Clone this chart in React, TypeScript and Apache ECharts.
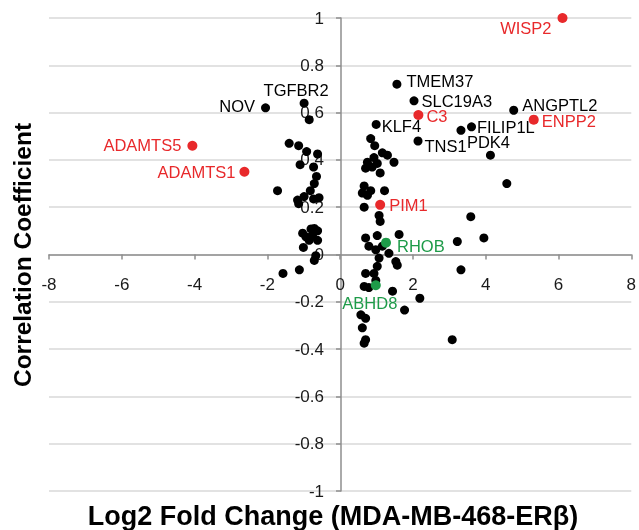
import React, { useEffect, useRef } from "react";
import * as echarts from "echarts";

// Labeled genes
const labeledNames = ["WISP2", "TMEM37", "SLC19A3", "C3", "ANGPTL2", "ENPP2", "FILIP1L", "PDK4", "TNS1", "KLF4", "PIM1", "RHOB", "ABHD8", "NOV", "TGFBR2", "ADAMTS5", "ADAMTS1"];
const labeledX = [6.11, 1.56, 2.03, 2.15, 4.77, 5.32, 3.61, 4.13, 2.14, 0.99, 1.10, 1.26, 0.98, -2.05, -0.99, -4.06, -2.63];
const labeledY = [1.0, 0.72, 0.65, 0.59, 0.61, 0.57, 0.54, 0.42, 0.48, 0.55, 0.21, 0.05, -0.13, 0.62, 0.64, 0.46, 0.35];
const labeledGroup = ["red", "black", "black", "red", "black", "red", "black", "black", "black", "black", "red", "green", "green", "black", "black", "red", "red"];

// Unlabeled genes (log2 fold change, correlation coefficient)
const otherX = [
  -0.85, -1.40, -1.14, -0.92, -0.62, -1.10, -0.73, -0.65, -0.71, -1.72, -0.82, -0.99, -1.17, -0.58, -0.73, -1.14,
  -0.71, -0.62, -0.80, -1.03, -0.94, -0.85, -0.62, -0.76, -1.01, -0.67, -0.71, -1.57, -1.12,
  0.84, 0.95, 1.16, 1.30, 1.48, 0.93, 0.75, 1.02, 0.70, 0.88, 1.10, 0.66, 0.84, 0.61, 0.75, 1.22, 0.66, 1.07, 1.10,
  0.70, 1.02, 1.62, 0.79, 0.98, 1.16, 1.34, 1.07, 1.53, 1.57, 1.02, 0.93, 0.70, 0.98, 0.66, 0.79, 1.44, 2.19, 1.77,
  0.57, 0.70, 0.61, 0.70, 0.66,
  3.32, 4.58, 3.59, 3.22, 3.95, 3.32, 3.08
];
const otherY = [
  0.57, 0.47, 0.46, 0.435, 0.425, 0.38, 0.37, 0.33, 0.30, 0.27, 0.27, 0.245, 0.23, 0.24, 0.235, 0.215,
  0.11, 0.10, 0.108, 0.09, 0.075, 0.06, 0.06, 0.08, 0.03, -0.005, -0.025, -0.08, -0.065,
  0.49, 0.46, 0.43, 0.42, 0.39, 0.41, 0.39, 0.385, 0.365, 0.37, 0.345, 0.29, 0.27, 0.26, 0.25, 0.27, 0.20, 0.165, 0.14,
  0.07, 0.08, 0.085, 0.035, 0.02, 0.035, 0.005, -0.015, -0.03, -0.045, -0.05, -0.08, -0.08, -0.11, -0.135, -0.14, -0.155, -0.185, -0.235,
  -0.255, -0.27, -0.31, -0.36, -0.375,
  0.525, 0.30, 0.16, 0.055, 0.07, -0.065, -0.36
];

const xTicks = { min: -8, max: 8, interval: 2 };
const yTicks = { min: -1, max: 1, interval: 0.2 };

const COLORS: Record<string, string> = { red: "#e8292b", green: "#1e9b49", black: "#000000" };
const FONT = "Liberation Sans";

// layout
const GRID = { left: 49, right: 6, top: 18, bottom: 39 };
const W = 639;
const H = 530;

// label placement (style only)
const labelPlacement: Record<string, { position: string; distance: number; offset: [number, number] }> = {
  WISP2: { position: "left", distance: 6, offset: [0, 10] },
  TMEM37: { position: "right", distance: 5, offset: [0, -3] },
  SLC19A3: { position: "right", distance: 3, offset: [0, 0] },
  C3: { position: "right", distance: 3, offset: [0, 1] },
  ANGPTL2: { position: "right", distance: 4, offset: [0, -5] },
  ENPP2: { position: "right", distance: 3, offset: [0, 1] },
  FILIP1L: { position: "right", distance: 1, offset: [0, 0] },
  PDK4: { position: "top", distance: 0, offset: [-2, 0] },
  TNS1: { position: "right", distance: 2, offset: [0, 5] },
  KLF4: { position: "right", distance: 1, offset: [0, 2] },
  PIM1: { position: "right", distance: 4, offset: [0, 0] },
  RHOB: { position: "right", distance: 6, offset: [0, 3] },
  ABHD8: { position: "bottom", distance: 4, offset: [-6, 0] },
  NOV: { position: "left", distance: 6, offset: [0, -2] },
  TGFBR2: { position: "top", distance: 0, offset: [-8, 0] },
  ADAMTS5: { position: "left", distance: 6, offset: [0, -1] },
  ADAMTS1: { position: "left", distance: 4, offset: [0, 0] },
};

export default function App() {
  const ref = useRef<HTMLDivElement>(null);
  useEffect(() => {
    if (!ref.current) return;
    const chart = echarts.init(ref.current, null, { renderer: "svg" });

    const otherData = otherX.map((x, i) => [x, otherY[i]]);
    const labeledData = labeledNames.map((name, i) => {
      const p = labelPlacement[name];
      const c = COLORS[labeledGroup[i]];
      return {
        name,
        value: [labeledX[i], labeledY[i]],
        symbolSize: labeledGroup[i] === "black" ? 9 : 10,
        itemStyle: { color: c },
        label: {
          show: true,
          formatter: name,
          position: p.position,
          distance: p.distance,
          offset: p.offset,
          color: c,
          fontSize: 16.5,
          fontFamily: FONT,
        },
      };
    });

    // pixel offsets that move the axes to the zero lines
    const plotW = W - GRID.left - GRID.right;
    const plotH = H - GRID.top - GRID.bottom;
    const yAxisOffset = -plotW * (0 - xTicks.min) / (xTicks.max - xTicks.min);
    const xAxisOffset = -plotH * (0 - yTicks.min) / (yTicks.max - yTicks.min);

    const axisColor = "#8e8e8e";
    chart.setOption({
      animation: false,
      grid: GRID,
      xAxis: {
        type: "value",
        position: "bottom",
        offset: xAxisOffset,
        min: xTicks.min,
        max: xTicks.max,
        interval: xTicks.interval,
        axisLine: { show: true, onZero: false, lineStyle: { color: axisColor, width: 1.5 } },
        axisTick: { show: true, length: 5, lineStyle: { color: axisColor, width: 1.5 } },
        axisLabel: { margin: 21, fontSize: 17, color: "#1a1a1a", fontFamily: FONT },
        splitLine: { show: false },
      },
      yAxis: {
        type: "value",
        position: "left",
        offset: yAxisOffset,
        min: yTicks.min,
        max: yTicks.max,
        interval: yTicks.interval,
        axisLine: { show: true, onZero: false, lineStyle: { color: axisColor, width: 1.5 } },
        axisTick: { show: true, length: 5, lineStyle: { color: axisColor, width: 1.5 } },
        axisLabel: {
          margin: 17,
          fontSize: 17,
          color: "#1a1a1a",
          fontFamily: FONT,
          formatter: (v: number) => String(Math.round(v * 10) / 10),
        },
        splitLine: { show: true, lineStyle: { color: "#d9d9d9", width: 1.5 } },
      },
      series: [
        {
          type: "scatter",
          data: otherData,
          symbolSize: 9,
          itemStyle: { color: "#000000", opacity: 1 },
          z: 2,
        },
        {
          type: "scatter",
          data: labeledData,
          itemStyle: { opacity: 1 },
          z: 3,
        },
      ],
      graphic: [
        {
          type: "text",
          x: 22,
          y: 255,
          rotation: Math.PI / 2,
          style: {
            text: "Correlation Coefficient",
            font: `bold 24.5px "${FONT}"`,
            fill: "#000",
            align: "center",
            verticalAlign: "middle",
          },
        },
        {
          type: "text",
          x: 333,
          y: 516,
          style: {
            text: "Log2 Fold Change (MDA-MB-468-ERβ)",
            font: `bold 27px "${FONT}"`,
            fill: "#000",
            align: "center",
            verticalAlign: "middle",
          },
        },
      ],
    });
    return () => chart.dispose();
  }, []);
  return <div ref={ref} style={{ position: "fixed", left: 0, top: 0, width: W, height: H }} />;
}
